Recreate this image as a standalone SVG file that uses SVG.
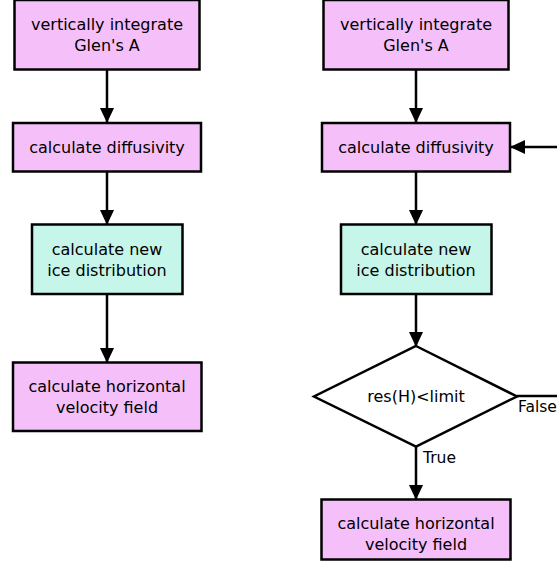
<svg xmlns="http://www.w3.org/2000/svg" width="557" height="574" viewBox="0 0 557 574">
<style>
.p{fill:#f5bffa;stroke:#000;stroke-width:2.5}
.c{fill:#c6f5ea;stroke:#000;stroke-width:2.5}
.d{fill:#fff;stroke:#000;stroke-width:2.5}
text{font-family:"DejaVu Sans",sans-serif;font-size:16px;fill:#000;text-anchor:middle}
.e line{stroke:#000;stroke-width:2.5}
.l{text-anchor:start;font-size:15.5px}
</style>
<defs>
<marker id="a" markerUnits="userSpaceOnUse" markerWidth="16" markerHeight="16" refX="15" refY="8" orient="auto">
<path d="M0,1 L15,8 L0,15 Z" fill="#000"/>
</marker>
</defs>
<g class="e" id="connectors">
<line x1="107" y1="70" x2="107" y2="123" marker-end="url(#a)"/>
<line x1="107" y1="172" x2="107" y2="225" marker-end="url(#a)"/>
<line x1="107" y1="294" x2="107" y2="363" marker-end="url(#a)"/>
<line x1="416" y1="70" x2="416" y2="123" marker-end="url(#a)"/>
<line x1="416" y1="172" x2="416" y2="225" marker-end="url(#a)"/>
<line x1="416" y1="294" x2="416" y2="347" marker-end="url(#a)"/>
<line x1="416" y1="446" x2="416" y2="500" marker-end="url(#a)"/>
<line x1="517" y1="396" x2="557" y2="396"/>
<line x1="557" y1="147" x2="510" y2="147" marker-end="url(#a)"/>
<text class="l" x="423" y="463">True</text>
<text class="l" x="518" y="412">False</text>
</g>
<g id="l1"><rect class="p" x="14.5" y="0" width="185" height="69.5"/><text x="107" y="30">vertically integrate</text><text x="107" y="51">Glen's A</text></g>
<g id="l2"><rect class="p" x="13" y="123" width="188" height="48.5"/><text x="107" y="153">calculate diffusivity</text></g>
<g id="l3"><rect class="c" x="32" y="224.5" width="150.5" height="69.5"/><text x="107" y="255">calculate new</text><text x="107" y="276">ice distribution</text></g>
<g id="l4"><rect class="p" x="13" y="362.5" width="188.5" height="68.5"/><text x="107" y="392">calculate horizontal</text><text x="107" y="413">velocity field</text></g>
<g id="r1"><rect class="p" x="323.5" y="0" width="185" height="69.5"/><text x="416" y="30">vertically integrate</text><text x="416" y="51">Glen's A</text></g>
<g id="r2"><rect class="p" x="322" y="123" width="188" height="48.5"/><text x="416" y="153">calculate diffusivity</text></g>
<g id="r3"><rect class="c" x="341" y="224.5" width="150.5" height="69.5"/><text x="416" y="255">calculate new</text><text x="416" y="276">ice distribution</text></g>
<g id="r4"><polygon class="d" points="416,346 517,396.5 416,446.5 314,396.5"/><text x="416" y="402">res(H)&lt;limit</text></g>
<g id="r5"><rect class="p" x="321.5" y="499.5" width="189" height="60"/><text x="416" y="529">calculate horizontal</text><text x="416" y="550">velocity field</text></g>
</svg>
